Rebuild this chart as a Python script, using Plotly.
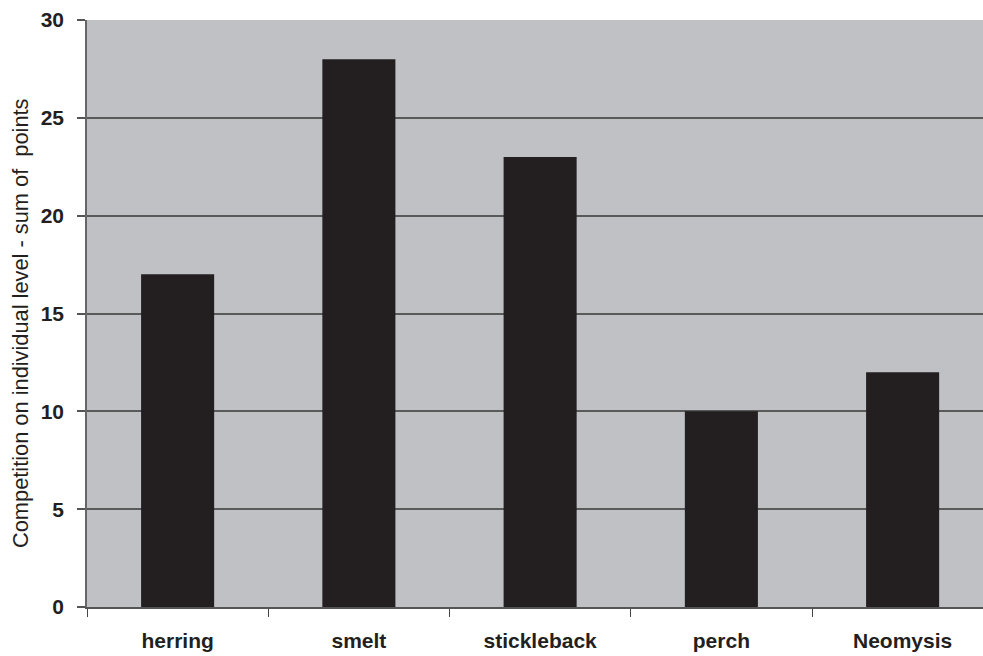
import plotly.graph_objects as go

categories = ["herring", "smelt", "stickleback", "perch", "Neomysis"]
values = [17, 28, 23, 10, 12]
y_ticks = [0, 5, 10, 15, 20, 25, 30]
y_title = "Competition on individual level - sum of  points"

FONT = "Liberation Sans, Arial, sans-serif"

fig = go.Figure()
fig.add_trace(go.Bar(
    x=categories, y=values,
    marker=dict(color="#231f20", line=dict(width=0)),
    width=0.403,
))

fig.update_layout(
    width=983, height=656,
    margin=dict(l=87, r=0, t=20, b=49),
    paper_bgcolor="white",
    plot_bgcolor="#c0c1c5",
    showlegend=False,
    font=dict(family=FONT, color="#231f20"),
    xaxis=dict(
        type="category",
        range=[-0.5, -0.5 + (983 - 87) / 181.25],
        tickfont=dict(size=21, family=FONT, weight="bold"),
        ticks="outside", ticklen=8, tickcolor="#444", tickwidth=1,
        tickson="boundaries",
        ticklabelstandoff=14,
        showgrid=False, zeroline=False,
        showline=True, linecolor="#555", linewidth=1.5,
        automargin=False,
    ),
    yaxis=dict(
        range=[0, 30],
        tickmode="array", tickvals=y_ticks,
        ticktext=[str(v) for v in y_ticks],
        tickfont=dict(size=21, family=FONT, weight="bold"),
        ticks="outside", ticklen=8, tickcolor="#555", tickwidth=1.5,
        ticklabelstandoff=9,
        showgrid=True, gridcolor="#5a5a5a", gridwidth=1.5,
        zeroline=False,
        showline=True, linecolor="#666", linewidth=1.5,
        automargin=False,
    ),
    annotations=[dict(
        text=y_title, textangle=-90,
        xref="paper", yref="paper",
        x=-(87 - 20) / 896, y=(656 - 49 - 323) / 587,
        xanchor="center", yanchor="middle",
        showarrow=False,
        font=dict(size=21.8, family=FONT, color="#231f20"),
    )],
)

fig.write_html("out.html")
